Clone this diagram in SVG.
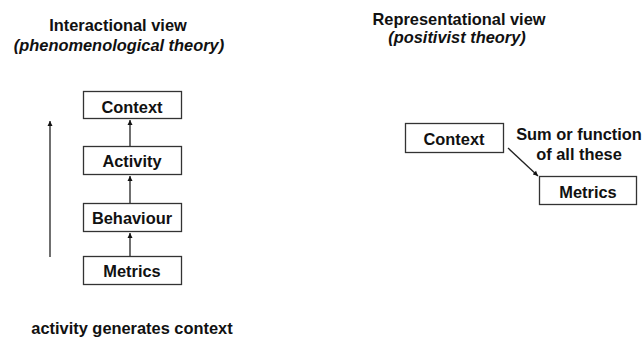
<svg xmlns="http://www.w3.org/2000/svg" width="644" height="338" viewBox="0 0 644 338">
<style>
text{font-family:"Liberation Sans",Arial,sans-serif;font-weight:bold;font-size:16.4px;fill:#111;text-anchor:middle}
.it{font-style:italic}
.box{fill:#fff;stroke:#333;stroke-width:1.3}
.con{stroke:#222;stroke-width:1.3;fill:none}
</style>
<defs>
<marker id="ah" viewBox="0 0 10 10" refX="10" refY="5" markerWidth="5" markerHeight="6" markerUnits="userSpaceOnUse" orient="auto">
<path d="M0,0 L10,5 L0,10 Z" fill="#111"/>
</marker>
</defs>
<rect width="644" height="338" fill="#fff"/>
<g id="titles">
<text x="118" y="31">Interactional view</text>
<text class="it" x="119" y="51">(phenomenological theory)</text>
<text x="459" y="25">Representational view</text>
<text class="it" x="457" y="43">(positivist theory)</text>
<text x="132" y="334">activity generates context</text>
<text x="579" y="140">Sum or function</text>
<text x="579" y="160">of all these</text>
</g>
<g id="connectors">
<line class="con" x1="50" y1="257" x2="50" y2="121" marker-end="url(#ah)"/>
<line class="con" x1="130" y1="146" x2="130" y2="120" marker-end="url(#ah)"/>
<line class="con" x1="130" y1="203" x2="130" y2="176" marker-end="url(#ah)"/>
<line class="con" x1="130" y1="256" x2="130" y2="233" marker-end="url(#ah)"/>
<line class="con" x1="508" y1="148" x2="538" y2="176" marker-end="url(#ah)"/>
</g>
<g id="node-context-left">
<rect class="box" x="83.5" y="91.5" width="98" height="27"/>
<text x="132" y="113">Context</text>
</g>
<g id="node-activity">
<rect class="box" x="83.5" y="146.5" width="98" height="28"/>
<text x="132" y="167">Activity</text>
</g>
<g id="node-behaviour">
<rect class="box" x="83.5" y="203.5" width="98" height="28"/>
<text x="132" y="224">Behaviour</text>
</g>
<g id="node-metrics-left">
<rect class="box" x="83.5" y="256.5" width="98" height="28"/>
<text x="132" y="277">Metrics</text>
</g>
<g id="node-context-right">
<rect class="box" x="405.5" y="123.5" width="98" height="29"/>
<text x="454" y="145">Context</text>
</g>
<g id="node-metrics-right">
<rect class="box" x="539.5" y="176.5" width="97" height="28"/>
<text x="588" y="198">Metrics</text>
</g>
</svg>
